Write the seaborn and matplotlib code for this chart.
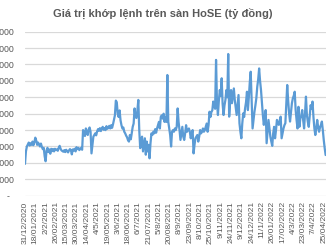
import matplotlib
matplotlib.use("Agg")
import matplotlib.pyplot as plt
import seaborn as sns
import pandas as pd

title = "Giá trị khớp lệnh trên sàn HoSE (tỷ đồng)"

tick_labels = ["31/12/2020", "18/01/2021", "2/2/2021", "26/02/2021", "15/03/2021",
               "30/03/2021", "14/04/2021", "4/5/2021", "19/05/2021", "3/6/2021",
               "18/06/2021", "6/7/2021", "21/07/2021", "5/8/2021", "20/08/2021",
               "8/9/2021", "23/09/2021", "8/10/2021", "25/10/2021", "9/11/2021",
               "24/11/2021", "9/12/2021", "24/12/2021", "11/1/2022", "26/01/2022",
               "17/02/2022", "4/3/2022", "23/03/2022", "7/4/2022", "25/04/2022"]

y_ticks = [0, 5000, 10000, 15000, 20000, 25000, 30000, 35000, 40000, 45000, 50000]
y_tick_labels = ["-  ", "5.000", "10.000", "15.000", "20.000", "25.000",
                 "30.000", "35.000", "40.000", "45.000", "50.000"]

# daily matched value (billion VND), one per trading day
values = [
    9700, 13500, 15000, 15600, 16200, 15300, 16000, 15500, 16500, 15400,
    16300, 17700, 16800, 15500, 16200, 15600, 15000, 15900, 14900, 14200,
    14600, 12000, 10500, 13800, 14600, 13300, 14100, 12800, 14300, 13600,
    14200, 13500, 14300, 13900, 14100, 13700, 14600, 15200, 14300, 13800,
    13600, 13400, 13900, 13300, 14000, 13600, 13200, 13800, 14200, 13900,
    12600, 14100, 13800, 14300, 13500, 14800, 14200, 14600, 13900, 14300,
    14600, 14000, 20000, 19000, 18200, 20500, 19300, 18500, 20200, 20800,
    19500, 12900, 15500, 18000, 18500, 19000, 18400, 19600, 20300, 19800,
    20600, 19700, 20400, 21000, 20100, 20600, 20000, 21200, 20400, 20800,
    21300, 20500, 21500, 20700, 21800, 23100, 24500, 29000, 28500, 25000,
    24000, 26000, 23000, 21500, 20500, 20800, 19500, 19000, 18300, 17800,
    16900, 16500, 18500, 17200, 19000, 21000, 22000, 26600, 24000, 23700,
    26000, 29200, 20000, 14500, 16500, 18000, 13500, 15500, 17500, 12500,
    16500, 13500, 15500, 11400, 16000, 19000, 18500, 19500, 19000, 20300,
    19200, 20500, 21500, 22500, 20500, 24000, 24500, 23500, 25000, 22500,
    24000, 22500, 36800, 22500, 20500, 18500, 15000, 19500, 20000, 19500,
    20500, 20000, 21000, 26600, 22500, 20000, 17000, 19000, 21000, 18000,
    17000, 19000, 21500, 19500, 20000, 20500, 19500, 17500, 19000, 20000,
    12900, 15500, 17500, 18000, 18500, 16500, 18000, 20000, 19000, 19500,
    20500, 19500, 20000, 21000, 22000, 19500, 21500, 25600, 24000, 25500,
    26000, 28700, 27500, 26500, 41400, 28200, 24600, 29000, 32200, 30500,
    35800, 28000, 24600, 27500, 29200, 32200, 30000, 43200, 24100, 28500,
    32200, 28200, 30500, 32700, 29200, 27000, 24600, 27800, 30700, 22100,
    19500, 17500, 22000, 25100, 24000, 26600, 28500, 31700, 26100, 30000,
    34500, 37800, 29200, 20500, 23000, 25600, 27500, 29700, 33200, 35500,
    38800, 35000, 32200, 28200, 24500, 21600, 24000, 26100, 16000, 19500,
    23100, 20500, 18000, 16500, 15200, 19000, 21000, 17500, 20000, 23100,
    22000, 21600, 23000, 24100, 17500, 19000, 20500, 21500, 22100, 28200,
    33750, 29000, 25100, 22600, 25500, 28200, 29700, 30500, 31700, 26100,
    23000, 20500, 27100, 21000, 23500, 24500, 26100, 23100, 20500, 25000,
    30200, 24600, 22500, 21000, 24500, 27600, 26500, 28700, 24000, 20500,
    18500, 20500, 23100, 21000, 19500, 20800, 21600, 22600, 20000, 17000,
    14500, 12400,
]

df = pd.DataFrame({"day": range(len(values)), "value": values})

sns.set_theme(style="white")
plt.rcParams["font.family"] = ["Liberation Sans", "DejaVu Sans"]

fig = plt.figure(figsize=(3.26, 2.45), dpi=100)
ax = fig.add_axes([25 / 326, (245 - 195.7) / 245, 1 - 25 / 326, (195.7 - 31.7) / 245])

sns.lineplot(data=df, x="day", y="value", ax=ax, color="#5B9BD5", linewidth=1.6)

ax.set_xlim(0, len(values) - 0.6)
ax.set_ylim(0, 50000)
ax.set_yticks(y_ticks)
ax.set_yticklabels(y_tick_labels)
ax.set_xticks([i * 11 for i in range(len(tick_labels))])
ax.set_xticklabels(tick_labels, rotation=90)
ax.tick_params(axis="x", length=0, labelsize=6.0, labelcolor="#595959", pad=4)
ax.tick_params(axis="y", length=0, labelsize=6.3, labelcolor="#595959", pad=7.5)
ax.yaxis.grid(True, color="#D9D9D9", linewidth=0.9)
ax.set_axisbelow(True)
for s in ax.spines.values():
    s.set_visible(False)
ax.set_xlabel("")
ax.set_ylabel("")

fig.text(163 / 326, 1 - 13 / 245, title, ha="center", va="center",
         fontsize=8.0, fontweight="bold", color="#595959")

fig.savefig("out.png", dpi=100)
